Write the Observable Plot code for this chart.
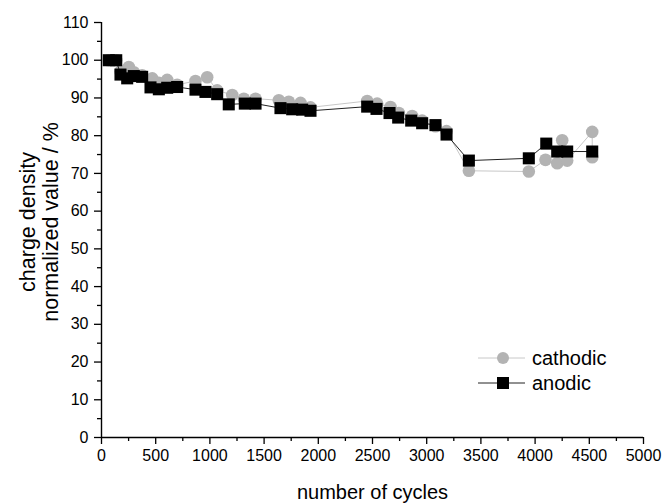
<!DOCTYPE html>
<html>
<head>
<meta charset="utf-8">
<script src="https://cdn.jsdelivr.net/npm/d3@7"></script>
<script src="https://cdn.jsdelivr.net/npm/@observablehq/plot@0.6"></script>
<style>
  html, body { margin: 0; padding: 0; background: #fff; }
  #chart svg { display: block; }
</style>
</head>
<body>
<div id="chart"></div>
<script>
// ---- data ----
const anodicCycles = [67, 136, 175, 237, 298, 375, 452, 529, 606, 698, 867, 959, 1067, 1174, 1322, 1421, 1651, 1759, 1851, 1928, 2451, 2537, 2657, 2737, 2857, 2958, 3081, 3183, 3389, 3942, 4103, 4204, 4296, 4527];
const anodicValues = [100, 100, 96.2, 95.2, 95.8, 95.6, 92.8, 92.3, 92.7, 92.9, 92.2, 91.6, 91.0, 88.3, 88.5, 88.5, 87.3, 87.0, 86.9, 86.6, 87.7, 87.1, 86.0, 84.8, 84.0, 83.3, 82.8, 80.3, 73.4, 74.0, 77.9, 75.8, 75.8, 75.8];

const cathodicCycles = [67, 136, 175, 252, 298, 375, 468, 529, 606, 698, 867, 975, 1067, 1206, 1313, 1421, 1636, 1728, 1836, 1928, 2451, 2543, 2666, 2743, 2866, 2958, 3081, 3183, 3389, 3942, 4096, 4204, 4250, 4296, 4527, 4527];
const cathodicValues = [100, 100, 97.0, 98.2, 96.8, 96.0, 95.2, 94.0, 94.8, 93.5, 94.5, 95.5, 92.0, 90.8, 89.8, 89.8, 89.4, 89.0, 88.7, 87.5, 89.2, 88.5, 87.6, 86.0, 85.2, 84.0, 82.5, 81.2, 70.7, 70.5, 73.6, 72.7, 78.8, 73.4, 81.0, 74.3];

const xMajorTicks = [0, 500, 1000, 1500, 2000, 2500, 3000, 3500, 4000, 4500, 5000];
const xMinorTicks = [250, 750, 1250, 1750, 2250, 2750, 3250, 3750, 4250, 4750];
const yMajorTicks = [0, 10, 20, 30, 40, 50, 60, 70, 80, 90, 100, 110];
const yMinorTicks = [5, 15, 25, 35, 45, 55, 65, 75, 85, 95, 105];

const seriesNames = ["cathodic", "anodic"];
const xLabel = "number of cycles";
const yLabelLines = ["charge density", "normalized value / %"];

const anodic = anodicCycles.map((c, i) => ({cycle: c, value: anodicValues[i]}));
const cathodic = cathodicCycles.map((c, i) => ({cycle: c, value: cathodicValues[i]}));

const GREY_DOT = "#b3b3b3";
const GREY_LINE = "#c8c8c8";
const FONT = "'Liberation Sans', Arial, sans-serif";

const chart = Plot.plot({
  width: 669,
  height: 503,
  marginLeft: 101,
  marginRight: 26,
  marginTop: 22,
  marginBottom: 66,
  style: {fontFamily: FONT, fontSize: "16px", color: "#000", background: "#fff"},
  x: {domain: [0, 5000]},
  y: {domain: [0, 110]},
  marks: [
    Plot.axisX({ticks: xMajorTicks, tickSize: 7, tickPadding: 5, tickFormat: d3.format("d"), label: null, fontSize: 16, strokeWidth: 1.3}),
    Plot.axisX({ticks: xMinorTicks, tickSize: 4, tickFormat: () => "", label: null, strokeWidth: 1.3}),
    Plot.axisY({ticks: yMajorTicks, tickSize: 7, tickPadding: 6, tickFormat: d3.format("d"), label: null, fontSize: 16, strokeWidth: 1.3}),
    Plot.axisY({ticks: yMinorTicks, tickSize: 4, tickFormat: () => "", label: null, strokeWidth: 1.3}),
    Plot.ruleX([0], {strokeWidth: 1.4}),
    Plot.ruleY([0], {strokeWidth: 1.4}),
    Plot.line(cathodic, {x: "cycle", y: "value", stroke: GREY_LINE, strokeWidth: 1}),
    Plot.dot(cathodic, {x: "cycle", y: "value", r: 6.3, fill: GREY_DOT, stroke: "none"}),
    Plot.line(anodic, {x: "cycle", y: "value", stroke: "#222", strokeWidth: 1}),
    Plot.dot(anodic, {x: "cycle", y: "value", symbol: "square", r: 6.8, fill: "#000", stroke: "none"}),
    Plot.text([xLabel], {frameAnchor: "bottom", dy: 55, fontSize: 20, lineAnchor: "middle", textAnchor: "middle"}),
    Plot.text([yLabelLines[0]], {frameAnchor: "left", dx: -73, dy: -8, rotate: -90, fontSize: 21.5, lineAnchor: "middle", textAnchor: "middle"}),
    Plot.text([yLabelLines[1]], {frameAnchor: "left", dx: -50, dy: -8, rotate: -90, fontSize: 21.5, lineAnchor: "middle", textAnchor: "middle"})
  ]
});

// legend inside the plot area (bottom-right)
const svg = d3.select(chart);
const lg = svg.append("g").attr("font-family", FONT).attr("font-size", 20).attr("text-anchor", "start");
const legendItems = [
  {name: seriesNames[0], line: GREY_LINE, kind: "circle"},
  {name: seriesNames[1], line: "#222", kind: "square"}
];
legendItems.forEach((it, i) => {
  const cy = 358 + i * 25;
  lg.append("line").attr("x1", 478).attr("x2", 525).attr("y1", cy).attr("y2", cy)
    .attr("stroke", it.line).attr("stroke-width", 1);
  if (it.kind === "circle") {
    lg.append("circle").attr("cx", 503).attr("cy", cy).attr("r", 6).attr("fill", GREY_DOT);
  } else {
    lg.append("rect").attr("x", 497).attr("y", cy - 6).attr("width", 12).attr("height", 12).attr("fill", "#000");
  }
  lg.append("text").attr("x", 532).attr("y", cy).attr("dy", "0.35em").attr("text-anchor", "start").text(it.name);
});

document.getElementById("chart").appendChild(chart);
</script>
</body>
</html>
